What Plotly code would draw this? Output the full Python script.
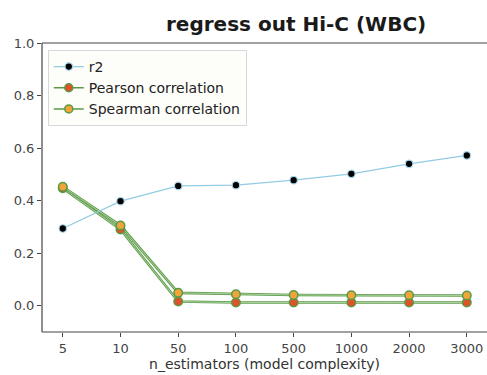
import plotly.graph_objects as go

categories = ["5", "10", "50", "100", "500", "1000", "2000", "3000"]
r2 = [0.294, 0.398, 0.456, 0.459, 0.478, 0.502, 0.540, 0.572]
pearson = [0.447, 0.290, 0.016, 0.012, 0.012, 0.012, 0.012, 0.012]
spearman = [0.453, 0.305, 0.049, 0.044, 0.041, 0.040, 0.040, 0.039]

x = list(range(len(categories)))
font_family = "DejaVu Sans, Liberation Sans, sans-serif"
green = "#5a9a45"
spine = dict(color="#444444", width=1.2)

fig = go.Figure()

# green lines with lighter centre (underlay)
for ys in (pearson, spearman):
    fig.add_trace(go.Scatter(x=x, y=ys, mode="lines",
                             line=dict(color="#5f9c4c", width=2.6),
                             showlegend=False, hoverinfo="skip"))
    fig.add_trace(go.Scatter(x=x, y=ys, mode="lines",
                             line=dict(color="#bfe0b2", width=0.8),
                             showlegend=False, hoverinfo="skip"))

fig.add_trace(go.Scatter(
    x=x, y=r2, mode="lines+markers", name="r2",
    line=dict(color="#92cbe4", width=1.2),
    marker=dict(color="black", size=7.5, line=dict(color="#a9d8ee", width=1.2)),
))
fig.add_trace(go.Scatter(
    x=x, y=pearson, mode="markers", name="Pearson correlation",
    marker=dict(color="#e0502a", size=8.5, line=dict(color=green, width=1.5)),
    showlegend=False,
))
fig.add_trace(go.Scatter(
    x=x, y=spearman, mode="markers", name="Spearman correlation",
    marker=dict(color="#f0a43a", size=8.5, line=dict(color=green, width=1.5)),
    showlegend=False,
))
# legend entries
fig.add_trace(go.Scatter(
    x=[None], y=[None], mode="lines+markers", name="Pearson correlation",
    line=dict(color=green, width=1.6),
    marker=dict(color="#e0502a", size=8, line=dict(color=green, width=1.5)),
))
fig.add_trace(go.Scatter(
    x=[None], y=[None], mode="lines+markers", name="Spearman correlation",
    line=dict(color=green, width=1.6),
    marker=dict(color="#f0a43a", size=8, line=dict(color=green, width=1.5)),
))

fig.update_layout(
    width=487, height=375,
    margin=dict(l=42, r=0, t=43, b=43),
    paper_bgcolor="white", plot_bgcolor="white",
    font=dict(family=font_family, size=13, color="#333333"),
    title=dict(text="<b>regress out Hi-C (WBC)</b>", x=0.608, xanchor="center",
               y=0.936, yanchor="middle",
               font=dict(size=20, color="#1a1a1a", family=font_family)),
    showlegend=True,
    legend=dict(x=0.013, y=0.976, xanchor="left", yanchor="top",
                bgcolor="rgba(253,253,250,0.95)", bordercolor="#d8d8d8",
                borderwidth=1, font=dict(size=14, color="#222222", family=font_family),
                tracegroupgap=0, itemwidth=30),
    shapes=[
        dict(type="line", xref="paper", yref="paper", x0=0, x1=1.0, y0=1, y1=1,
             line=spine, layer="above"),
        dict(type="line", xref="paper", yref="paper", x0=0, x1=1.0, y0=0, y1=0,
             line=spine, layer="above"),
        dict(type="line", xref="paper", yref="paper", x0=0, x1=0, y0=0, y1=1,
             line=spine, layer="above"),
    ],
)
fig.update_xaxes(
    range=[-0.36, 7.35], tickmode="array", tickvals=x, ticktext=categories,
    showline=False, mirror=False,
    ticks="outside", ticklen=4, tickcolor="#444444",
    showgrid=False, zeroline=False,
    title=dict(text="n_estimators (model complexity)", standoff=0,
               font=dict(size=14, color="#333333", family=font_family)),
    tickfont=dict(size=13, color="#444444", family=font_family),
)
fig.update_yaxes(
    range=[-0.1, 1.0], tickvals=[0.0, 0.2, 0.4, 0.6, 0.8, 1.0], tickformat=".1f",
    showline=False, mirror=False,
    ticks="outside", ticklen=4, tickcolor="#444444",
    showgrid=False, zeroline=False,
    tickfont=dict(size=13, color="#444444", family=font_family),
)

fig.write_html("out.html", config={"staticPlot": True, "displayModeBar": False})
